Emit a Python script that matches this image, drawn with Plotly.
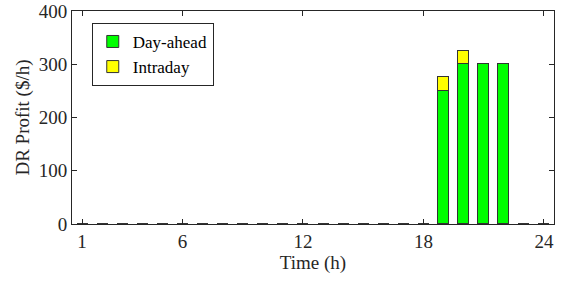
import plotly.graph_objects as go

hours = list(range(1, 25))
day_ahead = [0]*18 + [250, 300, 300, 300, 0, 0]
intraday = [0]*18 + [26, 25, 0, 0, 0, 0]

font_family = "Liberation Serif, Times New Roman, serif"

fig = go.Figure()
fig.add_trace(go.Bar(x=hours, y=day_ahead, name="Day-ahead", width=0.55,
                     marker=dict(color="#00ff00", line=dict(color="#333333", width=1))))
fig.add_trace(go.Bar(x=hours, y=intraday, name="Intraday", width=0.55,
                     marker=dict(color="#ffff00", line=dict(color="#333333", width=1))))

axis_common = dict(showline=True, linecolor="#262626", linewidth=1, mirror="ticks",
                   ticks="inside", ticklen=5, tickcolor="#262626", showgrid=False,
                   zeroline=False, automargin=False,
                   tickfont=dict(family=font_family, size=19, color="#262626"))

fig.update_layout(
    barmode="stack",
    width=562, height=281,
    margin=dict(l=72, r=8, t=11, b=57),
    plot_bgcolor="white", paper_bgcolor="white",
    font=dict(family=font_family, size=19, color="#262626"),
    xaxis=dict(range=[0.5, 24.5], tickvals=[1, 6, 12, 18, 24],
               title=dict(text="Time (h)", font=dict(family=font_family, size=19), standoff=2),
               **axis_common),
    yaxis=dict(range=[0, 400], tickvals=[0, 100, 200, 300, 400],
               title=dict(text="DR Profit ($/h)", font=dict(family=font_family, size=19), standoff=4),
               **axis_common),
    legend=dict(x=0.041, y=0.944, xanchor="left", yanchor="top", bgcolor="white",
                bordercolor="#262626", borderwidth=1, traceorder="normal",
                font=dict(family=font_family, size=17, color="#000000"),
                tracegroupgap=0, itemwidth=30),
    bargap=0,
)
fig.write_html("out.html",
               config={"displayModeBar": False},
               post_script="document.body.style.margin='0';document.body.style.overflow='hidden';")
